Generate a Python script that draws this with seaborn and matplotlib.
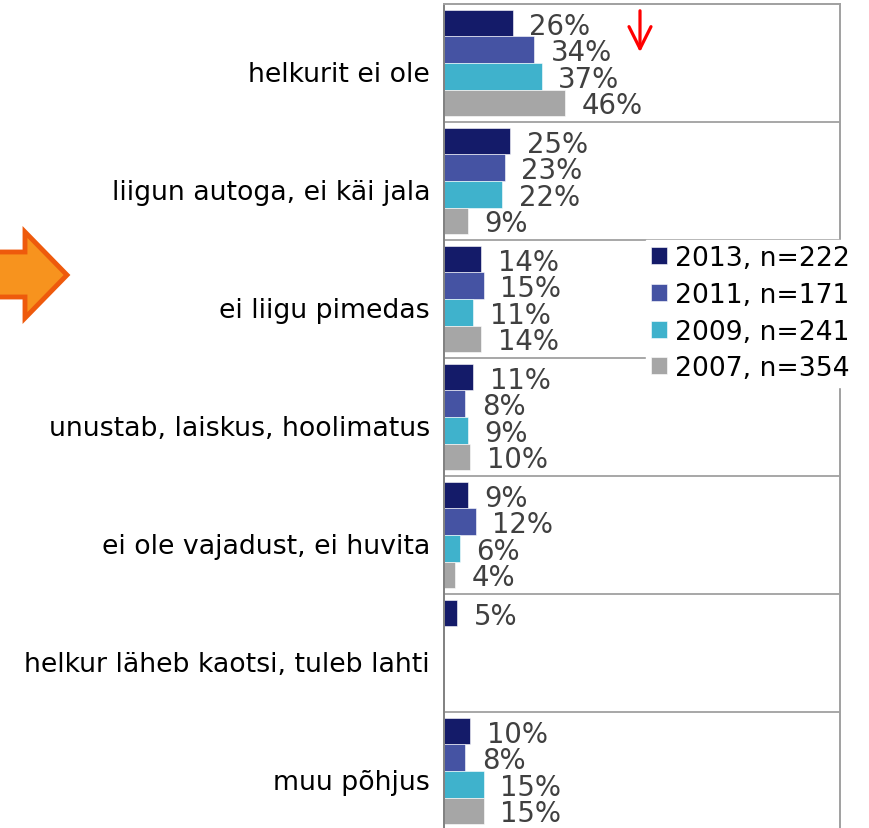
import numpy as np
import pandas as pd
import seaborn as sns
import matplotlib.pyplot as plt
from matplotlib.patches import Polygon, FancyArrowPatch
from matplotlib.transforms import ScaledTranslation

categories = [
    "helkurit ei ole",
    "liigun autoga, ei käi jala",
    "ei liigu pimedas",
    "unustab, laiskus, hoolimatus",
    "ei ole vajadust, ei huvita",
    "helkur läheb kaotsi, tuleb lahti",
    "muu põhjus",
]
series = ["2013, n=222", "2011, n=171", "2009, n=241", "2007, n=354"]
v2013 = [26, 25, 14, 11, 9, 5, 10]
v2011 = [34, 23, 15, 8, 12, np.nan, 8]
v2009 = [37, 22, 11, 9, 6, np.nan, 15]
v2007 = [46, 9, 14, 10, 4, np.nan, 15]
colors = ["#141B69", "#4553A3", "#3FB2CC", "#A6A6A6"]

rows = []
for s, vals in zip(series, [v2013, v2011, v2009, v2007]):
    for c, v in zip(categories, vals):
        rows.append({"cat": c, "year": s, "pct": v})
df = pd.DataFrame(rows).dropna()

sns.set_style("white")
plt.rcParams["font.family"] = ["DejaVu Sans"]
plt.rcParams["text.color"] = "black"

W, H = 869, 829
fig = plt.figure(figsize=(W / 100, H / 100), dpi=100)
ax = fig.add_axes([444 / W, -2 / H, 396 / W, 826 / H])

sns.barplot(
    df, x="pct", y="cat", hue="year", order=categories, hue_order=series,
    palette=colors, saturation=1, orient="h", width=0.9, errorbar=None, ax=ax,
    edgecolor="white", linewidth=0.4,
)

for cont in ax.containers:
    anns = ax.bar_label(cont, fmt="%d%%", padding=12, fontsize=19.8, color="#404040")
    for a in anns:
        a.xyann = (12, -1.8)

ax.set_xlim(0, 150)
ax.set_ylim(6.5, -0.5)
ax.set_xlabel("")
ax.set_ylabel("")
ax.set_xticks([])
ax.tick_params(axis="y", length=0, pad=10, labelsize=19.3, labelcolor="black")
shift = ScaledTranslation(0, -8 / 100, fig.dpi_scale_trans)
for lab in ax.get_yticklabels():
    lab.set_transform(lab.get_transform() + shift)

for y in np.arange(0.5, 6, 1):
    ax.axhline(y, color="#A0A0A0", lw=1.3, zorder=0)

for side in ["top", "right", "left"]:
    ax.spines[side].set_color("#A0A0A0")
    ax.spines[side].set_linewidth(1.4)
ax.spines["left"].set_color("#808080")
ax.spines["bottom"].set_visible(False)

handles, labels = ax.get_legend_handles_labels()
leg = ax.legend(
    handles, labels, loc="upper left",
    bbox_to_anchor=(646 / W, 1 - 241 / H), bbox_transform=fig.transFigure,
    fontsize=19.2, handlelength=0.6, handleheight=0.6, handletextpad=0.3,
    labelspacing=0.4, borderpad=0.2, borderaxespad=0,
    frameon=True, facecolor="white", edgecolor="white", framealpha=1,
    fancybox=False,
)
for t in leg.get_texts():
    t.set_color("black")
leg.set_zorder(10)


def fp(x, y):
    return (x / W, 1 - y / H)


orange = Polygon(
    [fp(-10, 253), fp(25, 253), fp(25, 233), fp(67, 276), fp(25, 319),
     fp(25, 298), fp(-10, 298)],
    closed=True, transform=fig.transFigure, facecolor="#F7931E",
    edgecolor="#EE5A0C", linewidth=3.5,
)
fig.add_artist(orange)

red = FancyArrowPatch(
    fp(640, 9), fp(640, 56), transform=fig.transFigure,
    arrowstyle="->,head_length=0.72,head_width=0.36", mutation_scale=22,
    color="#FF0000", lw=2.3,
)
fig.add_artist(red)

fig.savefig("out.png", dpi=100)
